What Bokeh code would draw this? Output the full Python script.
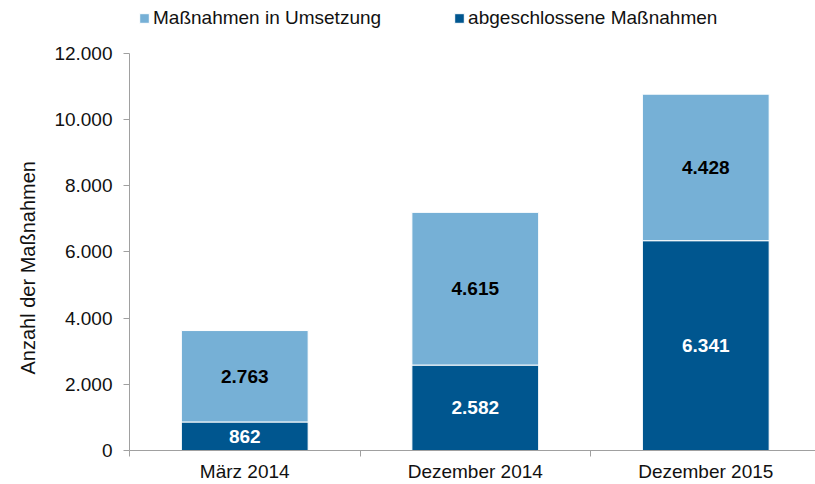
import numpy as np
from bokeh.plotting import figure
from bokeh.models import ColumnDataSource, FixedTicker, Legend, LegendItem, Range1d, Title
from bokeh.core.properties import value
from bokeh.embed import file_html
from bokeh.resources import INLINE

categories = ["März 2014", "Dezember 2014", "Dezember 2015"]
abgeschlossen = [862, 2582, 6341]
in_umsetzung = [2763, 4615, 4428]
y_ticks = [0, 2000, 4000, 6000, 8000, 10000, 12000]

DARK = "#00568F"
LIGHT = "#76B0D6"
FONT = "Liberation Sans"
TXT = "#111111"

def fmt(v):
    return f"{v:,}".replace(",", ".")

x = np.arange(len(categories)) + 0.5
a = np.array(abgeschlossen)
u = np.array(in_umsetzung)

src = ColumnDataSource(dict(
    x=x, a=a, u=u, top_a=a, top_u=a + u,
    ya=a / 2, yu=a + u / 2,
    la=[fmt(v) for v in a], lu=[fmt(v) for v in u],
))

p = figure(width=815, height=484, output_backend="svg", toolbar_location=None,
           x_range=Range1d(0, 2.976), y_range=Range1d(0, 13600),
           min_border_left=129, min_border_right=0, min_border_bottom=33, min_border_top=0)
p.outline_line_color = None
p.xgrid.visible = False
p.ygrid.visible = False

r_a = p.vbar(x="x", bottom=0, top="top_a", width=0.55, source=src,
             fill_color=DARK, line_color="white", line_width=1)
r_u = p.vbar(x="x", bottom="top_a", top="top_u", width=0.55, source=src,
             fill_color=LIGHT, line_color="white", line_width=1)

p.text(x="x", y="ya", text="la", source=src, text_align="center", text_baseline="middle",
       text_font=value(FONT), text_font_style="bold", text_font_size="19px", text_color="white")
p.text(x="x", y="yu", text="lu", source=src, text_align="center", text_baseline="middle",
       text_font=value(FONT), text_font_style="bold", text_font_size="19px", text_color="black")

# x axis
p.xaxis.ticker = FixedTicker(ticks=list(x), minor_ticks=list(range(len(categories) + 1)))
p.xaxis.major_label_overrides = {float(xx): c for xx, c in zip(x, categories)}
p.xaxis.major_tick_out = 0
p.xaxis.major_tick_in = 0
p.xaxis.minor_tick_out = 6
p.xaxis.minor_tick_in = 0
p.xaxis.major_label_standoff = 4
p.xaxis.axis_line_color = "#A0A0A0"
p.xaxis.minor_tick_line_color = "#A0A0A0"
p.xaxis.major_label_text_font = FONT
p.xaxis.major_label_text_font_size = "19px"
p.xaxis.major_label_text_color = TXT

# y axis
p.yaxis.ticker = FixedTicker(ticks=y_ticks)
p.yaxis.bounds = (0, 12000)
p.yaxis.major_label_overrides = {t: fmt(t) for t in y_ticks}
p.yaxis.major_tick_out = 6
p.yaxis.major_tick_in = 0
p.yaxis.minor_tick_line_color = None
p.yaxis.axis_line_color = "#A0A0A0"
p.yaxis.major_tick_line_color = "#A0A0A0"
p.yaxis.major_label_text_font = FONT
p.yaxis.major_label_text_font_size = "19px"
p.yaxis.major_label_text_color = TXT
p.yaxis.major_label_standoff = 11

ylabel = Title(text="Anzahl der Maßnahmen", align="left", offset=76, standoff=25,
               text_font=FONT, text_font_size="20px", text_font_style="normal",
               text_color=TXT)
p.add_layout(ylabel, "left")

legend = Legend(items=[LegendItem(label="Maßnahmen in Umsetzung", renderers=[r_u]),
                       LegendItem(label="abgeschlossene Maßnahmen", renderers=[r_a])],
                orientation="horizontal", location=(9, 421),
                glyph_width=12, glyph_height=12, label_standoff=3, spacing=72,
                label_height=20, margin=0, padding=0, border_line_color=None,
                background_fill_alpha=0,
                label_text_font=FONT, label_text_font_size="19px", label_text_color=TXT)
p.add_layout(legend)

open("out.html", "w").write(file_html(p, INLINE))
